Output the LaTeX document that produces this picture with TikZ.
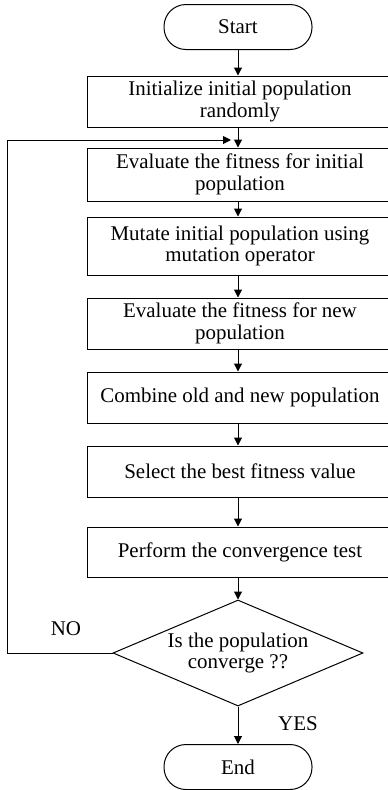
\documentclass[tikz,border=0pt]{standalone}
\usepackage{fontspec}
\setmainfont{Liberation Serif}
\usetikzlibrary{arrows.meta,shapes.geometric}

\tikzset{every picture/.style={line width=0.75pt}}
\tikzset{
  flowfont/.style={font=\fontsize{15.7}{16}\selectfont},
  procbox/.style={draw, flowfont, align=center, inner sep=0.75pt, minimum width=229.5pt, minimum height=38.25pt},
  termbox/.style={draw, flowfont, rounded corners=16.5pt, minimum width=111pt, minimum height=33.75pt},
  decbox/.style={draw, diamond, flowfont, align=center, aspect=2.36, inner sep=0pt, minimum width=187.5pt, minimum height=79.5pt},
  flowarrow/.style={-{Triangle[length=6pt,width=6pt]}}
}

\begin{document}
\begin{tikzpicture}[x=0.75pt,y=0.75pt,yscale=-1,xscale=1]
\useasboundingbox (0,0) rectangle (387,790);

% Terminal
\node [termbox] (start) at (238,27) {Start};
% Process boxes (right edge runs past the page)
\node [procbox] (init) at (240,101.5) {Initialize initial population\\randomly};
\node [procbox, minimum height=39.75pt] (evalold) at (240,174.5) {Evaluate the fitness for initial\\population};
\node [procbox, minimum height=43.5pt] (mutate) at (240,246) {Mutate initial population using\\mutation operator};
\node [procbox] (evalnew) at (240,323.5) {Evaluate the fitness for new\\population};
\node [procbox] (combine) at (240,397.5) {Combine old and new population};
\node [procbox] (select) at (240,471.5) {Select the best fitness value};
\node [procbox, minimum height=37.5pt] (conv) at (240,552) {Perform the convergence test};
% Decision
\node [decbox] (decide) at (238,653) {Is the population\\converge ??};
% Terminal
\node [termbox] (finish) at (238,767) {End};

% Straight Lines
\draw [flowarrow] (start) -- (start |- init.north);
\draw [flowarrow] (start |- init.south) -- (start |- evalold.north);
\draw [flowarrow] (start |- evalold.south) -- (start |- mutate.north);
\draw [flowarrow] (start |- mutate.south) -- (start |- evalnew.north);
\draw [flowarrow] (start |- evalnew.south) -- (start |- combine.north);
\draw [flowarrow] (start |- combine.south) -- (start |- select.north);
\draw [flowarrow] (start |- select.south) -- (start |- conv.north);
\draw [flowarrow] (start |- conv.south) -- (decide);
\draw [flowarrow] (decide) -- (finish);
% Feedback line
\coordinate (loopin) at (231,140);
\draw [flowarrow] (decide.west) -- ++(-105,0) |- (loopin);

% Text Node
\node [flowfont] (nolabel) at (66,629) {NO};
% Text Node
\node [flowfont] (yeslabel) at (298,724) {YES};

\end{tikzpicture}
\end{document}
